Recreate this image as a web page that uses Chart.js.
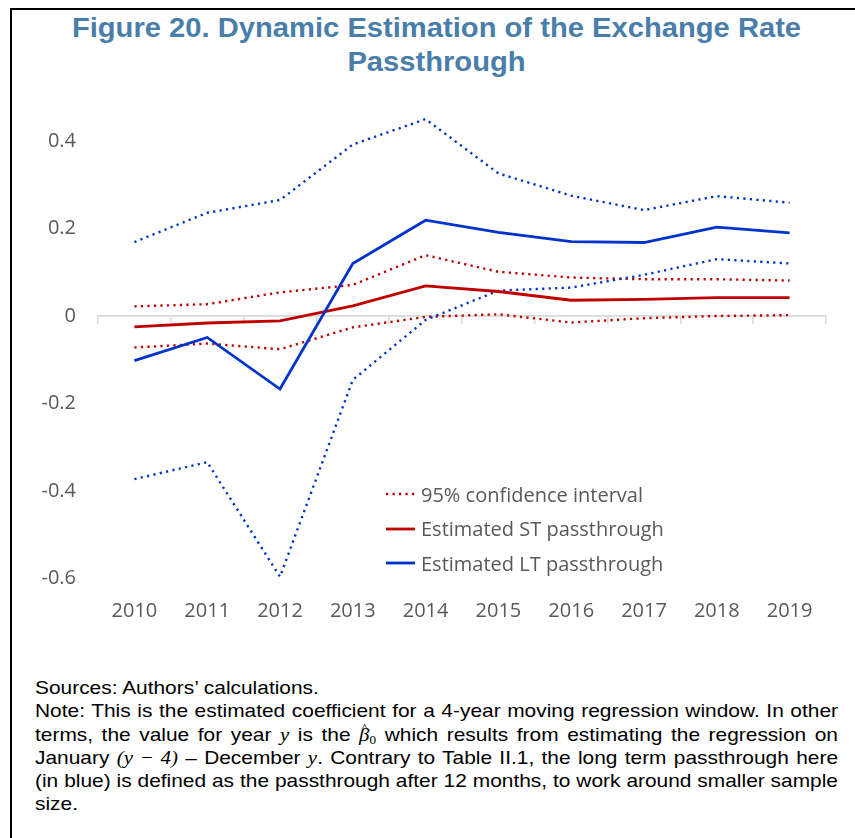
<!DOCTYPE html>
<html>
<head>
<meta charset="utf-8">
<script src="https://cdn.jsdelivr.net/npm/chart.js"></script>
<style>
  body { margin: 0; background: #fff; }
  #page { position: relative; width: 855px; height: 838px; overflow: hidden; }
  #frame { position: absolute; left: 10px; top: 8px; width: 860px; height: 840px;
           border-left: 2px solid #000; border-top: 2px solid #000; }
  #title { position: absolute; left: 9px; top: 11px; width: 855px; text-align: center;
           font: bold 27px "Liberation Sans", Arial, sans-serif; line-height: 34px;
           color: #4A7EAA; transform: scaleX(1.08); transform-origin: center; }
  #chartbox { position: absolute; left: 0; top: 0; width: 855px; height: 640px; }
  #legend { position: absolute; left: 386px; top: 477px; font: 20px "Open Sans", sans-serif; color: #595959; }
  .item { height: 34.5px; display: flex; align-items: center; white-space: nowrap; }
  .item svg { margin-right: 6px; }
  #note { position: absolute; left: 35px; top: 676px; width: 730px;
          font: 19px "Liberation Sans", Arial, sans-serif; line-height: 23.3px; color: #000;
          transform: scaleX(1.1); transform-origin: left top; }
  #note div { white-space: nowrap; height: 23.3px; }
  #note .j { text-align: justify; text-align-last: justify; }
  .m { font-family: "Liberation Serif", "DejaVu Serif", serif; font-style: italic; }
  .beta { position: relative; display: inline-block; line-height: 0; }
  .beta .hat { position: absolute; left: 2px; top: -7px; font-size: 13px; font-style: normal; }
  .beta sub { font-size: 12px; line-height: 0; vertical-align: -3px; font-style: normal; }
</style>
</head>
<body>
<div id="page">
  <div id="frame"></div>
  <div id="title">Figure 20. Dynamic Estimation of the Exchange Rate<br>Passthrough</div>
  <div id="chartbox"><canvas id="mychart" width="855" height="640"></canvas></div>
  <div id="legend"></div>
  <div id="note">
    <div>Sources: Authors’ calculations.</div>
    <div class="j">Note: This is the estimated coefficient for a 4-year moving regression window. In other</div>
    <div class="j">terms, the value for year <span class="m">y</span> is the <span class="m beta">β<span class="hat">^</span><sub>0</sub></span> which results from estimating the regression on</div>
    <div class="j">January <span class="m">(y − 4)</span> – December <span class="m">y</span>. Contrary to Table II.1, the long term passthrough here</div>
    <div class="j">(in blue) is defined as the passthrough after 12 months, to work around smaller sample</div>
    <div>size.</div>
  </div>
</div>
<script>
var years = ['2010', '2011', '2012', '2013', '2014', '2015', '2016', '2017', '2018', '2019'];

// long term passthrough and its 95% band
var ltUpper = [0.169, 0.236, 0.265, 0.392, 0.450, 0.326, 0.275, 0.242, 0.274, 0.259];
var ltEst   = [-0.102, -0.049, -0.167, 0.120, 0.219, 0.191, 0.170, 0.168, 0.203, 0.190];
var ltLower = [-0.373, -0.334, -0.596, -0.146, -0.009, 0.058, 0.065, 0.094, 0.130, 0.120];

// short term passthrough and its 95% band
var stUpper = [0.022, 0.027, 0.054, 0.071, 0.139, 0.101, 0.088, 0.084, 0.084, 0.081];
var stEst   = [-0.025, -0.016, -0.011, 0.023, 0.069, 0.056, 0.036, 0.038, 0.042, 0.042];
var stLower = [-0.072, -0.063, -0.076, -0.026, -0.002, 0.004, -0.015, -0.005, 0.000, 0.002];

var yTicks = [0.4, 0.2, 0, -0.2, -0.4, -0.6];
var legendLabels = ['95% confidence interval', 'Estimated ST passthrough', 'Estimated LT passthrough'];

var RED = '#C00000';
var BLUE = '#0033CC';
var DOT = [2.2, 4.3];

function line(label, data, color, dotted, order) {
    return {
        label: label,
        data: data,
        borderColor: color,
        backgroundColor: color,
        borderWidth: dotted ? 2.4 : 2.8,
        borderDash: dotted ? DOT : [],
        pointRadius: 0,
        tension: 0,
        fill: false,
        clip: false,
        order: order
    };
}

Chart.defaults.font.family = "'Open Sans', sans-serif";
Chart.defaults.color = '#595959';

var ctx = document.getElementById('mychart').getContext('2d');
var chart = new Chart(ctx, {
    type: 'line',
    data: {
        labels: years,
        datasets: [
            line('LT upper', ltUpper, BLUE, true, 3),
            line('LT lower', ltLower, BLUE, true, 3),
            line(legendLabels[2], ltEst, BLUE, false, 0),
            line('ST upper', stUpper, RED, true, 4),
            line('ST lower', stLower, RED, true, 4),
            line(legendLabels[1], stEst, RED, false, 1)
        ]
    },
    options: {
        responsive: false,
        animation: false,
        layout: { padding: { top: 141, right: 29, left: 0, bottom: 0 } },
        plugins: { legend: { display: false }, title: { display: false }, tooltip: { enabled: false } },
        scales: {
            x: {
                type: 'category',
                offset: true,
                grid: { display: false, drawTicks: false },
                border: { display: false },
                ticks: { font: { size: 20 }, padding: 21, maxRotation: 0 },
                afterFit: function (s) { s.height = 61.5; }
            },
            x2: {
                type: 'category',
                position: { y: 0 },
                offset: true,
                grid: { display: true, offset: true, drawOnChartArea: false, drawTicks: true,
                        tickLength: 7, color: '#D9D9D9', lineWidth: 1.5 },
                border: { display: true, color: '#D9D9D9', width: 1.8 },
                ticks: { display: false }
            },
            y: {
                min: Math.min.apply(null, yTicks),
                max: Math.max.apply(null, yTicks),
                grid: { display: false, drawTicks: false },
                border: { display: false },
                ticks: {
                    stepSize: 0.2,
                    padding: 22,
                    font: { size: 20 },
                    callback: function (v) { return Math.abs(v) < 1e-9 ? '0' : v.toFixed(1); }
                },
                afterFit: function (s) { s.width = 98; }
            }
        }
    }
});

// legend inside the plot, built from the datasets
var legendSets = [chart.data.datasets[3], chart.data.datasets[5], chart.data.datasets[2]];
var legendBox = document.getElementById('legend');
legendSets.forEach(function (ds, i) {
    var dash = ds.borderDash.length ? ' stroke-dasharray="' + ds.borderDash.join(' ') + '"' : '';
    var row = document.createElement('div');
    row.className = 'item';
    row.innerHTML = '<svg width="29" height="6"><line x1="0" y1="3" x2="29" y2="3" stroke="' + ds.borderColor +
        '" stroke-width="' + ds.borderWidth + '"' + dash + '/></svg><span>' + legendLabels[i] + '</span>';
    legendBox.appendChild(row);
});
</script>
</body>
</html>
